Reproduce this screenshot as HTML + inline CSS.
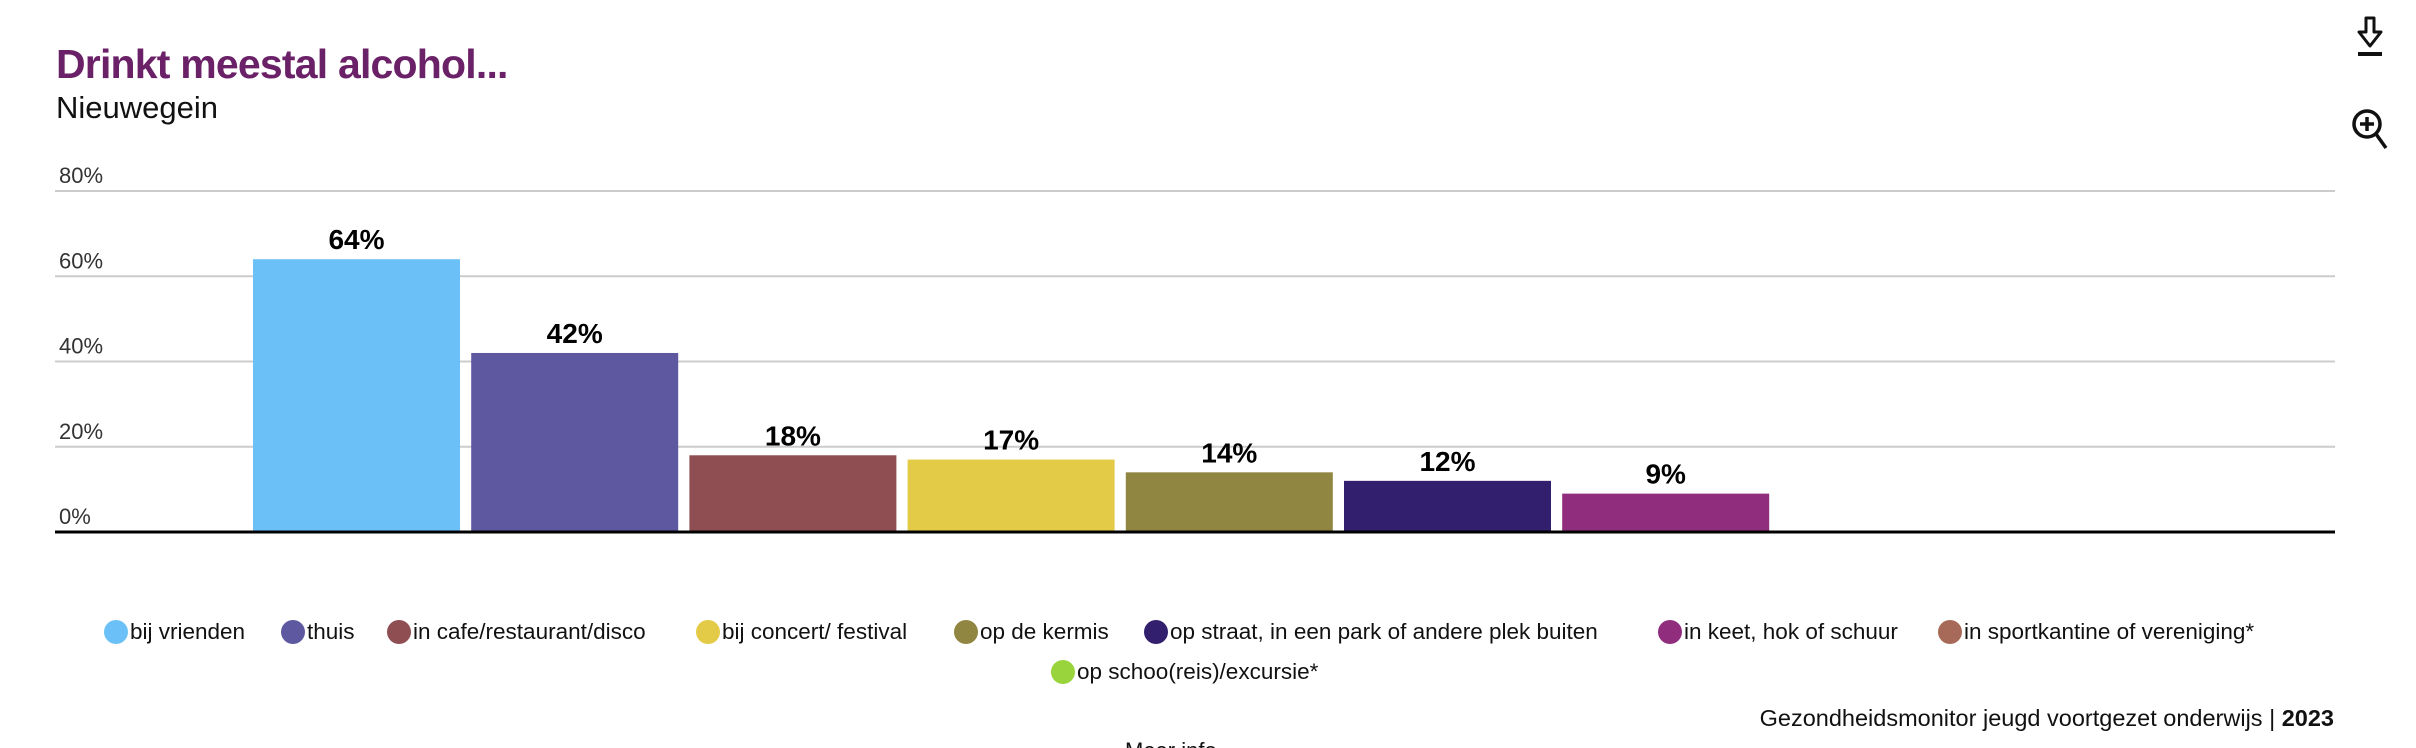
<!DOCTYPE html>
<html><head><meta charset="utf-8">
<style>
html,body{margin:0;padding:0;background:#fff;width:2416px;height:748px;overflow:hidden;font-family:"Liberation Sans",sans-serif;}
#wrap{position:relative;width:2416px;height:748px;}
.t{position:absolute;white-space:nowrap;}
.leg{position:absolute;display:flex;align-items:center;font-size:22.5px;color:#111;white-space:nowrap;letter-spacing:0px}
.leg i{display:inline-block;width:24px;height:24px;border-radius:50%;margin-right:2px}
</style></head><body>
<div id="wrap">
<div class="t" style="left:56px;top:41px;font-size:41px;font-weight:bold;color:#6b2167;letter-spacing:-0.8px">Drinkt meestal alcohol...</div>
<div class="t" style="left:56px;top:90px;font-size:31px;color:#111">Nieuwegein</div>
<svg style="position:absolute;left:2352px;top:14px" width="36" height="44" viewBox="0 0 36 44"><path d="M14 4h8v14h7L18 32 7 18h7z" fill="none" stroke="#111" stroke-width="3" stroke-linejoin="round"/><line x1="6" y1="40" x2="30" y2="40" stroke="#111" stroke-width="4"/></svg>
<svg style="position:absolute;left:2350px;top:106px" width="44" height="46" viewBox="0 0 44 46"><circle cx="17" cy="18" r="13" fill="none" stroke="#111" stroke-width="3.5"/><line x1="17" y1="11" x2="17" y2="25" stroke="#111" stroke-width="3.5"/><line x1="10" y1="18" x2="24" y2="18" stroke="#111" stroke-width="3.5"/><line x1="26" y1="28" x2="36" y2="42" stroke="#111" stroke-width="3.5"/></svg>
<svg id="chart" style="position:absolute;left:0;top:0" width="2416" height="600"></svg>
<div id="legend"></div>
<div class="t" style="right:82px;top:705px;font-size:23.5px;color:#111;letter-spacing:0px">Gezondheidsmonitor jeugd voortgezet onderwijs | <b>2023</b></div>
<div class="t" style="left:1125px;top:738px;font-size:22px;color:#111">Meer info</div>
</div>
<script>
const categories=["bij vrienden","thuis","in cafe/restaurant/disco","bij concert/ festival","op de kermis","op straat, in een park of andere plek buiten","in keet, hok of schuur"];
const values=[64,42,18,17,14,12,9];
const colors=["#6bc1f7","#5e58a0","#8f4e52","#e3cb47","#918542","#32206e","#902d7d"];
const tickValues=[0,20,40,60,80];
const tickLabels=["0%","20%","40%","60%","80%"];
const legendLabels=["bij vrienden","thuis","in cafe/restaurant/disco","bij concert/ festival","op de kermis","op straat, in een park of andere plek buiten","in keet, hok of schuur","in sportkantine of vereniging*","op schoo(reis)/excursie*"];
const legendColors=["#6bc1f7","#5e58a0","#8f4e52","#e3cb47","#918542","#32206e","#902d7d","#a86a58","#9ad43c"];

const NS="http://www.w3.org/2000/svg";
const svg=document.getElementById('chart');
const x0=55,x1=2335,y0=532,yMax=80,plotH=341;
const y=v=>y0-v/yMax*plotH;
const barStart=253,step=218.2,bw=207;
const xb=i=>barStart+i*step;
function mk(tag,attrs){const e=document.createElementNS(NS,tag);for(const k in attrs)e.setAttribute(k,attrs[k]);svg.appendChild(e);return e;}
tickValues.forEach((v,i)=>{
  if(v>0){const l=mk('line',{x1:x0,x2:x1,y1:y(v),y2:y(v),stroke:'#cccccc','stroke-width':2});
  
  }
  const t=mk('text',{x:59,y:y(v)-8,'font-size':22,fill:'#333','font-family':'Liberation Sans, sans-serif'});
  t.textContent=tickLabels[i];
  
  
});
values.forEach((v,i)=>{
  const r=mk('rect',{x:xb(i),y:y(v),width:bw,height:y0-y(v),fill:colors[i]});
  
  
  const t=mk('text',{x:xb(i)+bw/2,y:y(v)-10,'font-size':28,'font-weight':'bold','text-anchor':'middle',fill:'#000','font-family':'Liberation Sans, sans-serif'});
  t.textContent=v+'%';
  
  
});
const ax=mk('line',{x1:x0,x2:x1,y1:y0,y2:y0,stroke:'#000','stroke-width':3});



const legPos=[[104,633],[281,633],[387,633],[696,633],[954,633],[1144,633],[1658,633],[1938,633],[1051,673]];
const leg=document.getElementById('legend');
legendLabels.forEach((lab,i)=>{
  const d=document.createElement('div');
  d.className='leg';
  
  
  d.style.left=legPos[i][0]+'px';d.style.top=(legPos[i][1]-14)+'px';
  const dot=document.createElement('i');dot.style.background=legendColors[i];
  d.appendChild(dot);d.appendChild(document.createTextNode(lab));
  leg.appendChild(d);
});
</script>
</body></html>
